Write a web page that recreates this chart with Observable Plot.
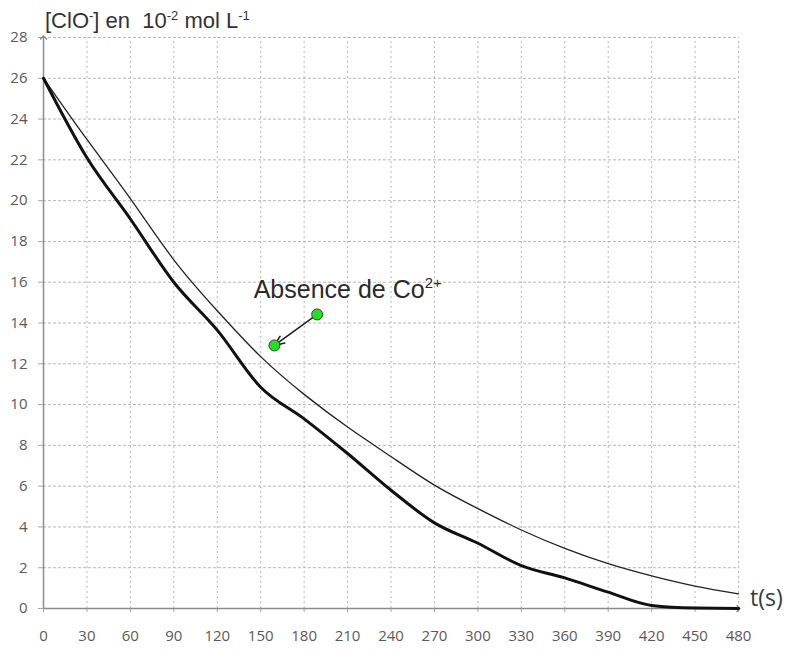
<!DOCTYPE html>
<html>
<head>
<meta charset="utf-8">
<script src="https://cdn.jsdelivr.net/npm/d3@7"></script>
<script src="https://cdn.jsdelivr.net/npm/@observablehq/plot@0.6"></script>
<style>
  body { margin: 0; background: #fff; }
  svg { display: block; }
</style>
</head>
<body>
<div id="chart"></div>
<script>
// ---- data ----
const times = [0, 30, 60, 90, 120, 150, 180, 210, 240, 270, 300, 330, 360, 390, 420, 450, 480];
const absenceCo = [26, 23.0, 20.1, 17.1, 14.6, 12.35, 10.5, 8.9, 7.45, 6.05, 4.9, 3.85, 2.95, 2.2, 1.6, 1.1, 0.72];
const presenceCo = [26, 22.1, 19.1, 16.0, 13.65, 10.85, 9.3, 7.6, 5.8, 4.2, 3.2, 2.1, 1.5, 0.8, 0.15, 0.02, 0];
const xTicks = [0, 30, 60, 90, 120, 150, 180, 210, 240, 270, 300, 330, 360, 390, 420, 450, 480];
const yTicks = [0, 2, 4, 6, 8, 10, 12, 14, 16, 18, 20, 22, 24, 26, 28];
const annotationT = [189, 159.5];
const annotationC = [14.42, 12.9];
const labelText = "Absence de Co";
const labelSup = "2+";

const thin = times.map((t, i) => ({t, v: absenceCo[i]}));
const thick = times.map((t, i) => ({t, v: presenceCo[i]}));
const dots = annotationT.map((t, i) => ({t, v: annotationC[i]}));

const plot = Plot.plot({
  width: 788,
  height: 650,
  marginLeft: 43,
  marginRight: 50,
  marginTop: 37,
  marginBottom: 42,
  style: {fontFamily: "'Open Sans', sans-serif", fontSize: "15px", background: "#fff"},
  x: {domain: [0, 480]},
  y: {domain: [0, 28]},
  marks: [
    Plot.ruleY(yTicks.filter(d => d > 0), {x1: 0, x2: 480, stroke: "#b8b8b8", strokeDasharray: "3,2", strokeWidth: 1}),
    Plot.ruleX(xTicks.filter(d => d > 0), {y1: 0, y2: 28, stroke: "#b8b8b8", strokeDasharray: "2,3", strokeWidth: 1}),
    Plot.axisY({ticks: yTicks, tickSize: 5, tickPadding: 11, stroke: "#a8a8a8", fill: "#5a5a5a", fontSize: 15, label: null}),
    Plot.axisX({ticks: xTicks, tickSize: 4, tickPadding: 18, stroke: "#a8a8a8", fill: "#5a5a5a", fontSize: 15, label: null}),
    Plot.link([0], {x1: 0, y1: 0, x2: 0, y2: 28, stroke: "#8c8c8c", strokeWidth: 1.5, markerEnd: "arrow"}),
    Plot.link([0], {x1: 0, y1: 0, x2: 480, y2: 0, stroke: "#8c8c8c", strokeWidth: 1.5, markerEnd: "arrow"}),
    Plot.line(thin, {x: "t", y: "v", stroke: "#222", strokeWidth: 1.3, curve: "natural"}),
    Plot.line(thick, {x: "t", y: "v", stroke: "#111", strokeWidth: 3, curve: "monotone-x"}),
    Plot.arrow([0], {x1: annotationT[0], y1: annotationC[0], x2: annotationT[1], y2: annotationC[1],
      stroke: "#222", strokeWidth: 1.6, headLength: 10, headAngle: 45, inset1: 4, inset2: 3}),
    Plot.dot(dots, {x: "t", y: "v", r: 5.5, fill: "#22e022", stroke: "#1d4d1d", strokeWidth: 1})
  ]
});

const svg = d3.select(plot);
const xs = plot.scale("x"), ys = plot.scale("y");

// y-axis title
const title = svg.append("text")
  .attr("x", 45).attr("y", 28)
  .attr("text-anchor", "start")
  .attr("font-family", "'Liberation Sans', Arial, sans-serif")
  .attr("font-size", 22)
  .attr("fill", "#333");
title.append("tspan").text("[ClO");
title.append("tspan").attr("font-size", 13).attr("dy", -8).text("-");
title.append("tspan").attr("dy", 8).text("] en  10");
title.append("tspan").attr("font-size", 13).attr("dy", -8).text("-2");
title.append("tspan").attr("dy", 8).text(" mol L");
title.append("tspan").attr("font-size", 13).attr("dy", -8).text("-1");

// annotation
const lab = svg.append("text")
  .attr("x", xs.apply(145.5)).attr("y", ys.apply(15.2))
  .attr("text-anchor", "start")
  .attr("font-family", "'Liberation Sans', Arial, sans-serif")
  .attr("font-size", 25)
  .attr("fill", "#2a2a2a");
lab.append("tspan").text(labelText);
lab.append("tspan").attr("font-size", 15).attr("dy", -10).text(labelSup);

// x-axis title
svg.append("text")
  .attr("x", xs.apply(480) + 12).attr("y", ys.apply(0) - 2)
  .attr("text-anchor", "start")
  .attr("font-family", "'Open Sans', sans-serif")
  .attr("font-size", 23)
  .attr("fill", "#2f3f3f")
  .text("t(s)");

document.getElementById("chart").appendChild(plot);
</script>
</body>
</html>
